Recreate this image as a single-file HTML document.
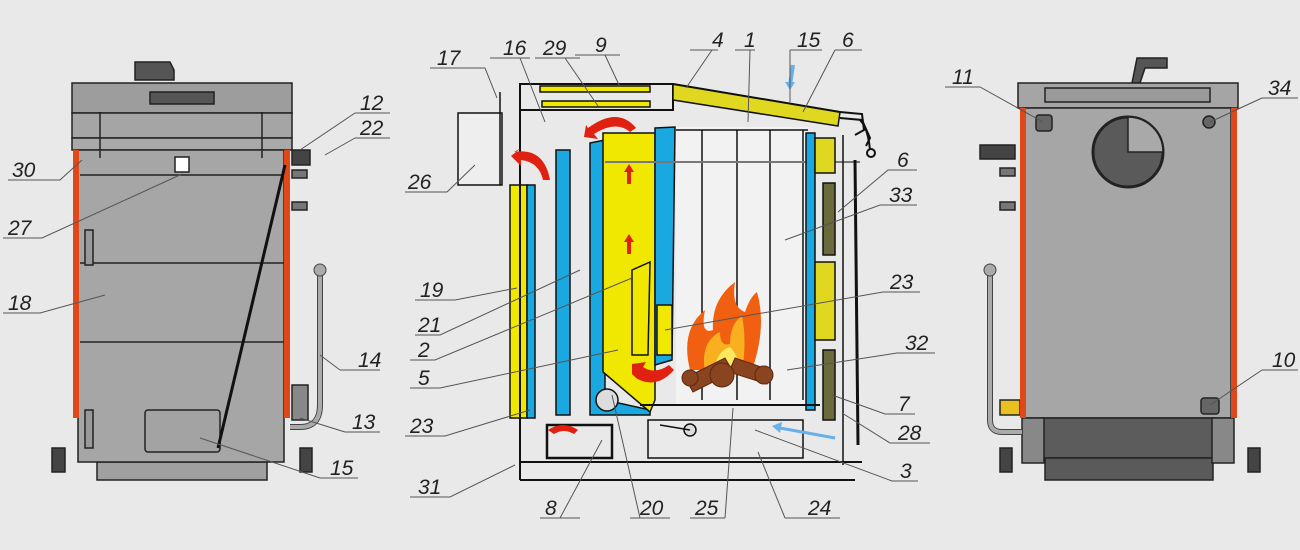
<!DOCTYPE html>
<html><head><meta charset="utf-8"><style>
html,body{margin:0;padding:0;background:#e9e9e9;}
svg{display:block}
text{font-family:"Liberation Sans",sans-serif;font-style:italic;font-size:21px;fill:#222;}
.l{stroke:#555;stroke-width:1;fill:none}
</style></head><body>
<svg width="1300" height="550" viewBox="0 0 1300 550" xmlns="http://www.w3.org/2000/svg">
<rect width="1300" height="550" fill="#e9e9e9"/>

<!-- LEFT BOILER -->
<g stroke="#222" stroke-width="1.5">
<path d="M135 62 h35 l4 8 v10 h-39z" fill="#555"/>
<rect x="72" y="83" width="220" height="30" fill="#9d9d9d"/>
<rect x="72" y="113" width="220" height="25" fill="#a5a5a5"/>
<rect x="72" y="138" width="220" height="12" fill="#a9a9a9"/>
<rect x="97" y="462" width="170" height="18" fill="#a0a0a0"/>
<rect x="78" y="150" width="206" height="312" fill="#a6a6a6"/>
<line x1="80" y1="175" x2="284" y2="175"/>
<line x1="80" y1="263" x2="284" y2="263"/>
<line x1="80" y1="342" x2="284" y2="342"/>
<rect x="145" y="410" width="75" height="42" rx="3" fill="#a3a3a3"/>
<rect x="175" y="157" width="14" height="15" fill="#fff"/>
<rect x="85" y="230" width="8" height="35" fill="#999"/>
<rect x="85" y="410" width="8" height="38" fill="#999"/>
<path d="M52 448 h13 v24 h-13z M300 448 h12 v24 h-12z" fill="#444"/>
<rect x="150" y="92" width="64" height="12" fill="#555"/>
<line x1="100" y1="112" x2="100" y2="158"/><line x1="262" y1="112" x2="262" y2="158"/>
<rect x="292" y="150" width="18" height="15" fill="#444"/>
<rect x="292" y="170" width="15" height="8" fill="#777"/>
<rect x="292" y="202" width="15" height="8" fill="#777"/>
<rect x="292" y="385" width="16" height="35" fill="#888"/>
</g>
<rect x="73" y="150" width="6" height="268" fill="#e0481a"/>
<rect x="284" y="150" width="6" height="268" fill="#e0481a"/>
<line x1="285" y1="165" x2="218" y2="448" stroke="#111" stroke-width="3"/>
<path d="M320 272 V405 q0 22 -20 22 h-10" stroke="#444" stroke-width="6" fill="none"/>
<path d="M320 272 V405 q0 22 -20 22 h-10" stroke="#aaa" stroke-width="4" fill="none"/>
<circle cx="320" cy="270" r="6" fill="#aaa" stroke="#444"/>

<!-- RIGHT BOILER -->
<g stroke="#222" stroke-width="1.5">
<path d="M1137 58 h30 v10 h-22 l-5 15 h-8z" fill="#555"/>
<rect x="1018" y="83" width="220" height="25" fill="#a5a5a5"/>
<rect x="1045" y="88" width="165" height="14" fill="#9a9a9a"/>
<rect x="1025" y="108" width="206" height="310" fill="#a6a6a6"/>
<circle cx="1128" cy="152" r="35" fill="#5a5a5a" stroke-width="3"/>
<path d="M1128 117 a35 35 0 0 1 35 35 h-35z" fill="#a9a9a9"/>
<rect x="1036" y="115" width="16" height="16" rx="3" fill="#666"/>
<circle cx="1209" cy="122" r="6" fill="#666"/>
<rect x="1201" y="398" width="18" height="16" rx="3" fill="#666"/>
<rect x="1043" y="418" width="170" height="40" fill="#5c5c5c"/>
<rect x="1045" y="458" width="168" height="22" fill="#5a5a5a"/>
<rect x="1022" y="418" width="22" height="45" fill="#888"/>
<rect x="1212" y="418" width="22" height="45" fill="#888"/>
<path d="M1000 448 h12 v24 h-12z M1248 448 h12 v24 h-12z" fill="#444"/>
<rect x="980" y="145" width="35" height="14" fill="#444"/>
<rect x="1000" y="168" width="15" height="8" fill="#777"/>
<rect x="1000" y="202" width="15" height="8" fill="#777"/>
<rect x="1000" y="400" width="20" height="15" fill="#e8c020"/>
</g>
<rect x="1020" y="108" width="6" height="310" fill="#e0481a"/>
<rect x="1231" y="108" width="6" height="310" fill="#e0481a"/>
<path d="M990 272 V420 q0 12 12 12 h20" stroke="#444" stroke-width="6" fill="none"/>
<path d="M990 272 V420 q0 12 12 12 h20" stroke="#aaa" stroke-width="4" fill="none"/>
<circle cx="990" cy="270" r="6" fill="#aaa" stroke="#444"/>

<!-- MIDDLE SECTION -->
<g stroke="#111" stroke-width="1.5">
<rect x="520" y="84" width="153" height="26" fill="#e9e9e9" stroke-width="2"/>
<rect x="540" y="86" width="110" height="6" fill="#f0e800"/>
<rect x="542" y="101" width="108" height="6" fill="#f0e800"/>
<path d="M673 84 L840 112 L838 126 L673 100z" fill="#e0d820"/>
<path d="M673 84 L840 112 L862 114 L864 130 L855 135" fill="none" stroke-width="2"/>
<path d="M840 118 l22 2 l8 18 l-4 8" fill="none" stroke-width="2"/>
<circle cx="871" cy="153" r="4" fill="#e9e9e9" stroke-width="2"/>
<path d="M860 120 q8 8 10 30" fill="none" stroke-width="2"/>
<rect x="458" y="113" width="44" height="72" fill="#eee"/>
<line x1="500" y1="92" x2="500" y2="185"/>
<rect x="510" y="185" width="17" height="233" fill="#f0e800"/>
<rect x="527" y="185" width="8" height="233" fill="#1aa8e0"/>
<line x1="520" y1="110" x2="520" y2="480" stroke-width="2"/>
<rect x="556" y="150" width="14" height="265" fill="#1aa8e0"/>
<path d="M590 143 L605 140 L605 400 L650 410 L650 415 L590 415z" fill="#1aa8e0"/>
<path d="M603 133 L655 133 L655 400 L650 412 L603 372z" fill="#f0e800"/>
<path d="M655 128 L675 127 L672 360 L655 365z" fill="#1aa8e0"/>
<path d="M632 270 L650 262 L648 355 L632 355z" fill="#f0e800"/>
<rect x="657" y="305" width="15" height="50" fill="#f0e800"/>
<circle cx="607" cy="400" r="11" fill="#ddd"/>
<rect x="676" y="127" width="132" height="278" fill="#f2f2f2" stroke="none"/>
<line x1="702" y1="130" x2="702" y2="400" /><line x1="737" y1="130" x2="737" y2="400"/><line x1="770" y1="130" x2="770" y2="400"/><line x1="803" y1="130" x2="803" y2="400"/>
<line x1="676" y1="130" x2="808" y2="130"/>
<line x1="605" y1="162" x2="860" y2="162" stroke="#777" stroke-width="2"/>
<rect x="806" y="133" width="9" height="277" fill="#1aa8e0"/>
<rect x="815" y="138" width="20" height="35" fill="#e0d820"/>
<rect x="823" y="183" width="12" height="72" fill="#6b6a3a"/>
<rect x="815" y="262" width="20" height="78" fill="#e0d820"/>
<rect x="823" y="350" width="12" height="70" fill="#6b6a3a"/>
<line x1="855" y1="160" x2="858" y2="445" stroke-width="3"/>
<line x1="843" y1="135" x2="843" y2="465"/>
<line x1="640" y1="405" x2="820" y2="405" stroke-width="2"/>
<rect x="547" y="425" width="65" height="33" fill="#e9e9e9" stroke-width="2.5"/>
<path d="M648 420 h155 v38 h-155z" fill="#eaeaea"/>
<line x1="520" y1="462" x2="862" y2="462" stroke-width="2"/>
<line x1="520" y1="480" x2="855" y2="480" stroke-width="2"/>
<circle cx="690" cy="430" r="6" fill="#ddd"/>
<line x1="660" y1="425" x2="690" y2="430"/>
</g>
<!-- red arrows -->
<g fill="#e02010">
<path d="M588 128 q30 -22 48 0 l-6 4 q-14 -12 -36 2 l4 5 -14 -2 2 -12z"/>
<path d="M514 152 q30 -5 36 28 l-7 0 q-4 -18 -22 -20 l0 6 -10 -10 10 -8z"/>
<path d="M636 378 q20 12 38 -8 l-5 -5 q-14 10 -26 2 l3 -5 -14 2 0 10z"/>
<path d="M548 430 q15 -10 30 0 l-4 4 q-10 -6 -20 0z"/>
<rect x="627" y="170" width="4" height="14"/><path d="M624 172 l5 -8 l5 8z"/>
<rect x="627" y="240" width="4" height="14"/><path d="M624 242 l5 -8 l5 8z"/>
</g>
<path d="M793 65 l-3 20" stroke="#6ab0e8" stroke-width="4"/><path d="M785 82 l5 8 l5 -8z" fill="#6ab0e8"/>
<path d="M835 438 l-55 -10" stroke="#6ab0e8" stroke-width="3"/><path d="M782 422 l-10 4 l8 7z" fill="#6ab0e8"/>
<!-- fire -->
<path d="M690 370 q-10 -40 15 -60 q-5 25 8 20 q-2 -30 22 -48 q-4 25 10 30 q5 -15 12 -20 q10 35 -5 78z" fill="#f06010"/>
<path d="M705 372 q-5 -30 15 -40 q0 15 10 12 q0 -20 12 -28 q5 25 0 56z" fill="#f8b020"/>
<path d="M715 372 q0 -20 15 -25 q10 10 8 25z" fill="#fde860"/>
<g fill="#8a4420" stroke="#5a2a10"><path d="M685 378 l40 -20 l8 14 l-40 20z"/><path d="M735 358 l35 12 l-3 14 l-38 -12z"/><circle cx="722" cy="375" r="12"/><circle cx="690" cy="378" r="8"/><circle cx="764" cy="375" r="9"/></g>

<!-- leader lines -->
<g class="l">
<path d="M8 180 H60 L82 160"/><path d="M3 238 H42 L182 174"/><path d="M3 313 H40 L105 295"/>
<path d="M355 113 H390 M355 113 L300 150"/><path d="M355 138 H390 M355 138 L325 155"/>
<path d="M340 370 H380 M340 370 L320 355"/><path d="M345 432 H380 M345 432 L300 418"/><path d="M320 478 H358 M320 478 L200 438"/>
<path d="M430 68 H485 L497 98"/><path d="M490 58 H530 M520 58 L545 122"/><path d="M535 58 H580 M565 58 L598 106"/><path d="M575 55 H620 M605 55 L620 87"/>
<path d="M690 50 H718 M712 50 L686 88"/><path d="M735 50 H755 M750 50 L748 122"/><path d="M790 50 H822 M790 50 L790 102"/><path d="M835 50 H862 M835 50 L803 112"/>
<path d="M405 192 H447 L475 165"/><path d="M415 300 H455 L517 288"/><path d="M415 335 H440 L580 270"/><path d="M410 360 H435 L632 278"/><path d="M410 388 H440 L618 350"/><path d="M405 436 H445 L530 410"/><path d="M410 497 H450 L515 465"/>
<path d="M540 518 H580 M560 518 L602 440"/><path d="M630 518 H670 M640 518 L612 395"/><path d="M690 518 H725 M725 518 L733 408"/><path d="M785 518 H840 M785 518 L758 452"/>
<path d="M917 170 H888 L838 212"/><path d="M917 205 H880 L785 240"/><path d="M920 292 H883 L665 330"/><path d="M935 353 H897 L787 370"/><path d="M915 414 H885 L832 395"/><path d="M930 443 H890 L842 413"/><path d="M918 481 H892 L755 430"/>
<path d="M945 87 H980 L1043 122"/><path d="M1262 98 H1298 M1262 98 L1210 122"/><path d="M1262 370 H1298 M1262 370 L1210 405"/>
</g>
<!-- labels -->
<g>
<text x="12" y="177">30</text><text x="8" y="235">27</text><text x="8" y="310">18</text>
<text x="360" y="110">12</text><text x="360" y="135">22</text><text x="358" y="367">14</text><text x="352" y="429">13</text><text x="330" y="475">15</text>
<text x="437" y="65">17</text><text x="503" y="55">16</text><text x="543" y="55">29</text><text x="595" y="52">9</text>
<text x="712" y="47">4</text><text x="744" y="47">1</text><text x="797" y="47">15</text><text x="842" y="47">6</text>
<text x="408" y="189">26</text><text x="420" y="297">19</text><text x="418" y="332">21</text><text x="418" y="357">2</text><text x="418" y="385">5</text><text x="410" y="433">23</text><text x="418" y="494">31</text>
<text x="545" y="515">8</text><text x="640" y="515">20</text><text x="695" y="515">25</text><text x="808" y="515">24</text>
<text x="897" y="167">6</text><text x="889" y="202">33</text><text x="890" y="289">23</text><text x="905" y="350">32</text><text x="898" y="411">7</text><text x="898" y="440">28</text><text x="900" y="478">3</text>
<text x="952" y="84">11</text><text x="1268" y="95">34</text><text x="1272" y="367">10</text>
</g>
</svg>
</body></html>
